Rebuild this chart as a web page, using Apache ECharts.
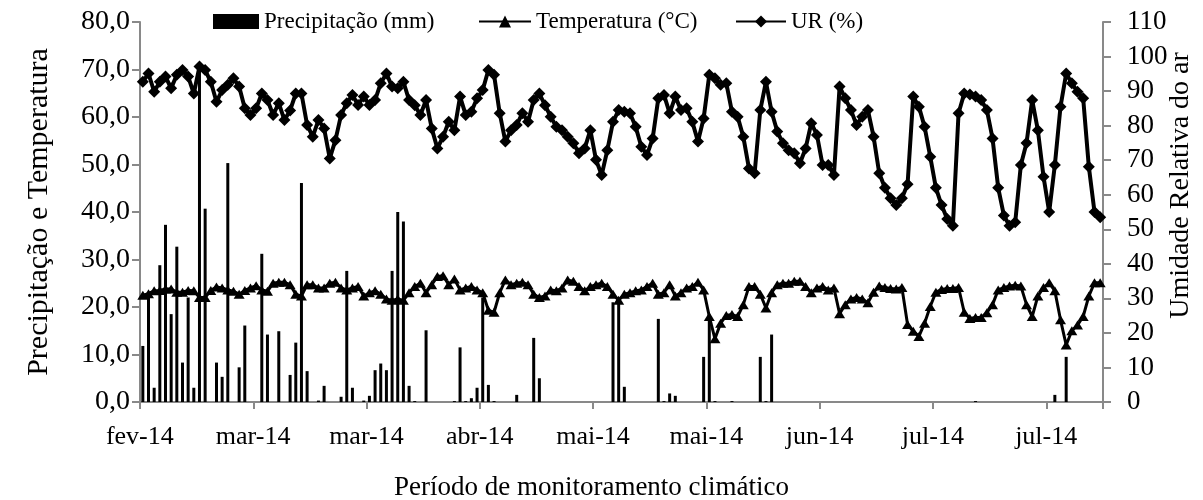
<!DOCTYPE html>
<html><head><meta charset="utf-8">
<script src="https://cdn.jsdelivr.net/npm/echarts@6/dist/echarts.min.js"></script>
<style>html,body{margin:0;padding:0;background:#fff}#c{width:1203px;height:500px}</style>
</head><body><div id="c"></div>
<script>
const startYear = 2014, startMonth = 1, startDay = 12; // 12 fev 2014
const dayCount = 170;
const tickStep = 20;
const tickLabels = ['fev-14','mar-14','mar-14','abr-14','mai-14','mai-14','jun-14','jul-14','jul-14'];
const leftTicks = [0,10,20,30,40,50,60,70,80];
const rightTicks = [0,10,20,30,40,50,60,70,80,90,100,110];

const precipitacao = [
 11.8, 22.5, 3.0, 28.8, 37.3, 18.5, 32.7, 8.3, 22.0, 3.0,
 71.0, 40.7, 0, 8.3, 5.3, 50.3, 0, 7.3, 16.1, 0,
 0, 31.2, 14.2, 0, 14.9, 0, 5.7, 12.5, 46.1, 6.5,
 0, 0.3, 3.4, 0, 0, 1.1, 27.6, 3.0, 0, 0.3,
 1.3, 6.7, 8.1, 6.7, 27.6, 40.0, 38.0, 3.4, 0.2, 0,
 15.1, 0, 0, 0, 0, 0.2, 11.5, 0.2, 0.8, 3.0,
 22.0, 3.6, 0.2, 0, 0, 0, 1.5, 0, 0, 13.5,
 5.0, 0, 0, 0, 0, 0, 0, 0, 0, 0,
 0, 0, 0, 21.0, 21.1, 3.2, 0, 0, 0, 0,
 0, 17.5, 0.2, 1.8, 1.3, 0, 0, 0, 0, 9.5,
 18.0, 0.2, 0, 0, 0.2, 0, 0, 0, 0, 9.5,
 0.2, 14.2, 0, 0, 0, 0, 0, 0, 0, 0,
 0, 0, 0, 0, 0, 0, 0, 0, 0, 0,
 0, 0, 0, 0, 0, 0, 0, 0, 0, 0,
 0, 0, 0, 0, 0, 0, 0, 0.2, 0, 0,
 0, 0, 0, 0, 0, 0, 0, 0, 0, 0,
 0, 1.5, 0, 9.5, 0, 0, 0, 0, 0, 0
];
const temperatura = [
 22.5, 22.8, 23.4, 23.5, 23.8, 23.8, 23.1, 23.1, 23.5, 23.4,
 22.0, 22.0, 23.5, 24.2, 24.0, 23.6, 23.3, 22.7, 23.5, 24.0,
 24.5, 23.6, 23.3, 25.0, 25.2, 25.2, 24.7, 22.7, 22.3, 24.7,
 24.7, 24.0, 24.0, 25.0, 25.2, 24.0, 23.6, 24.0, 24.3, 22.3,
 23.0, 23.4, 22.7, 21.7, 21.4, 21.7, 21.4, 23.0, 24.3, 25.0,
 23.0, 24.7, 26.4, 26.6, 24.7, 25.9, 23.6, 24.0, 24.3, 23.6,
 23.0, 19.3, 18.9, 23.0, 25.7, 24.7, 25.0, 25.2, 24.7, 22.7,
 22.0, 22.3, 23.6, 23.4, 24.0, 25.7, 25.4, 24.3, 23.4, 24.3,
 24.7, 25.0, 24.3, 22.7, 21.4, 22.7, 23.0, 23.4, 23.6, 24.3,
 25.0, 22.7, 23.0, 24.7, 22.3, 23.0, 24.0, 24.3, 25.2, 23.6,
 18.0, 13.3, 16.6, 18.2, 18.4, 18.0, 20.5, 24.3, 24.3, 22.7,
 19.8, 23.0, 24.7, 25.0, 25.0, 25.4, 25.4, 24.3, 23.0, 24.0,
 24.3, 23.6, 24.0, 18.6, 20.5, 21.7, 22.0, 21.7, 20.9, 23.1,
 24.4, 24.1, 23.9, 23.8, 24.1, 16.3, 14.9, 13.8, 16.6, 20.1,
 23.1, 23.7, 23.9, 23.9, 24.1, 18.9, 17.6, 17.8, 17.8, 18.8,
 20.5, 23.6, 24.1, 24.4, 24.6, 24.4, 20.5, 18.0, 22.3, 24.1,
 25.1, 23.4, 17.3, 12.0, 15.0, 16.2, 18.0, 22.3, 25.1, 25.1
];
const umidade = [
 92.7, 95.1, 89.8, 92.7, 94.2, 90.8, 94.7, 96.1, 94.2, 89.3,
 97.1, 96.1, 92.7, 86.9, 90.3, 91.8, 93.7, 91.3, 85.0, 83.1,
 85.0, 89.3, 87.4, 83.1, 86.5, 81.6, 84.4, 89.3, 89.3, 80.2,
 76.8, 81.6, 79.2, 70.5, 75.8, 83.1, 86.5, 88.9, 86.0, 88.4,
 86.0, 87.4, 92.3, 95.1, 91.3, 90.8, 92.7, 87.4, 85.9, 83.1,
 87.4, 79.2, 73.4, 76.8, 81.1, 78.7, 88.4, 83.1, 84.0, 87.9,
 90.3, 96.1, 94.7, 83.6, 75.4, 78.7, 80.2, 83.6, 81.1, 87.4,
 89.3, 85.9, 82.6, 79.7, 78.7, 76.8, 74.9, 72.0, 73.4, 78.7,
 70.1, 65.7, 72.9, 81.1, 84.5, 84.0, 83.6, 79.7, 73.9, 71.5,
 76.3, 87.9, 88.9, 83.6, 88.4, 84.5, 85.0, 81.1, 75.4, 82.1,
 94.7, 93.7, 91.8, 92.3, 84.0, 82.6, 76.8, 67.6, 66.2, 84.5,
 92.7, 84.0, 78.3, 74.9, 72.9, 72.0, 69.1, 73.4, 80.7, 77.3,
 68.6, 68.6, 65.7, 91.3, 87.9, 84.5, 80.2, 82.6, 84.5, 76.8,
 66.2, 62.0, 59.0, 57.0, 59.0, 63.0, 88.4, 85.5, 79.7, 71.0,
 62.0, 57.0, 53.0, 51.0, 83.6, 89.3, 89.0, 88.4, 87.4, 84.5,
 76.3, 62.0, 54.0, 51.0, 52.0, 68.6, 75.0, 87.4, 78.7, 65.2,
 55.0, 68.6, 85.5, 95.1, 92.3, 89.8, 87.9, 68.1, 55.0, 53.5
];

const categories = [];
for (let i = 0; i < dayCount; i++) {
  const d = new Date(Date.UTC(startYear, startMonth, startDay + i));
  categories.push(d.toISOString().slice(0, 10));
}

const FONT = 'Liberation Serif';
const AX = '#898989';
const legendText = {fontFamily: FONT, fontSize: 23, color: '#000'};
const chart = echarts.init(document.getElementById('c'), null, {renderer: 'canvas'});
chart.setOption({
  animation: false,
  backgroundColor: '#fff',
  textStyle: {fontFamily: FONT, color: '#000'},
  legend: [
    {left: 213, top: 10, padding: 0, itemWidth: 46, itemHeight: 15, textStyle: legendText,
      data: [{name: 'Precipitação (mm)', icon: 'rect'}]},
    {left: 478, top: 10, padding: 0, itemWidth: 52, itemHeight: 15, textStyle: legendText,
      data: ['Temperatura (°C)']},
    {left: 735, top: 10, padding: 0, itemWidth: 50, itemHeight: 15, textStyle: legendText,
      data: ['UR (%)']}
  ],
  grid: {left: 140, right: 100, top: 22, bottom: 98, containLabel: false, outerBoundsMode: 'none'},
  xAxis: {
    type: 'category', data: categories, boundaryGap: true,
    name: 'Período de monitoramento climático', nameLocation: 'middle', nameGap: 72,
    nameMoveOverlap: false,
    nameTextStyle: {fontFamily: FONT, fontSize: 27, color: '#000', padding: [0, 60, 0, 0]},
    axisLine: {lineStyle: {color: AX, width: 2}},
    axisTick: {show: true, length: 7, lineStyle: {color: AX, width: 2},
      interval: (idx) => idx % tickStep === 0},
    axisLabel: {fontFamily: FONT, fontSize: 26, color: '#000', margin: 22,
      padding: [0, 6, 0, 0],
      interval: (idx) => idx % tickStep === 0,
      formatter: (v, idx) => tickLabels[Math.round(idx / tickStep)]},
    splitLine: {show: false}
  },
  yAxis: [
    {type: 'value', min: leftTicks[0], max: leftTicks[leftTicks.length - 1], interval: 10,
      name: 'Precipitação e Temperatura', nameLocation: 'middle', nameGap: 86, nameRotate: 90,
      nameMoveOverlap: false,
      nameTextStyle: {fontFamily: FONT, fontSize: 30, color: '#000'},
      axisLine: {show: true, lineStyle: {color: AX, width: 2}},
      axisTick: {show: true, length: 8, lineStyle: {color: AX, width: 2}},
      axisLabel: {fontFamily: FONT, fontSize: 28, color: '#000', margin: 10,
        formatter: (v) => v.toFixed(1).replace('.', ',')},
      splitLine: {show: false}},
    {type: 'value', min: rightTicks[0], max: rightTicks[rightTicks.length - 1], interval: 10,
      position: 'right',
      name: 'Umidade Relativa do ar', nameLocation: 'middle', nameGap: 64, nameRotate: 90,
      nameMoveOverlap: false,
      nameTextStyle: {fontFamily: FONT, fontSize: 28, color: '#000', padding: [0, 0, 0, 53]},
      axisLine: {show: true, lineStyle: {color: AX, width: 2}},
      axisTick: {show: true, length: 8, lineStyle: {color: AX, width: 2}},
      axisLabel: {fontFamily: FONT, fontSize: 27, color: '#000', margin: 24,
        formatter: (v) => String(v)},
      splitLine: {show: false}}
  ],
  series: [
    {name: 'Precipitação (mm)', type: 'bar', yAxisIndex: 0, data: precipitacao,
      barWidth: 3, itemStyle: {color: '#000'}, z: 2},
    {name: 'Temperatura (°C)', type: 'line', yAxisIndex: 0, data: temperatura,
      symbol: 'triangle', symbolSize: [11, 9], showAllSymbol: true,
      lineStyle: {color: '#000', width: 3}, itemStyle: {color: '#000'}, z: 3},
    {name: 'UR (%)', type: 'line', yAxisIndex: 1, data: umidade,
      symbol: 'diamond', symbolSize: 12, showAllSymbol: true,
      lineStyle: {color: '#000', width: 4}, itemStyle: {color: '#000'}, z: 4}
  ]
});
</script></body></html>
